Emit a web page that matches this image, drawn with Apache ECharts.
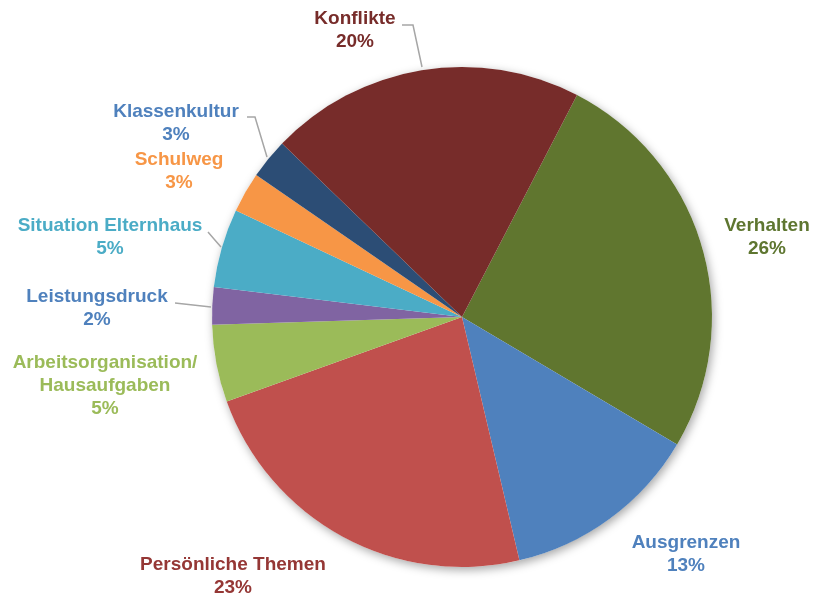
<!DOCTYPE html>
<html>
<head>
<meta charset="utf-8">
<script src="https://cdn.jsdelivr.net/npm/echarts@6/dist/echarts.min.js"></script>
<style>
html,body{margin:0;padding:0;background:#fff;}
#chart{width:814px;height:596px;}
</style>
</head>
<body>
<div id="chart"></div>
<script>
// ---- data ----
const categories = ['Verhalten', 'Ausgrenzen', 'Persönliche Themen', 'Arbeitsorganisation/\nHausaufgaben', 'Leistungsdruck', 'Situation Elternhaus', 'Schulweg', 'Klassenkultur', 'Konflikte'];
const values = [25.9, 12.8, 23.2, 5.0, 2.4, 5.1, 2.6, 2.6, 20.4];

// ---- styles ----
const sliceColors = ['#60762F', '#4F81BD', '#C0504D', '#9BBB59', '#8064A2', '#4BACC6', '#F79646', '#2C4D75', '#772C2A'];
const labelColors = ['#5E7630', '#4F81BD', '#953735', '#9BBB59', '#4F81BD', '#4BACC6', '#F79646', '#4F81BD', '#772C2A'];
const labelPos = [[767, 237], [686, 554], [233, 576], [105, 386], [97, 308], [110, 237], [179, 171], [176, 123], [355, 30]];
const leaderLines = {
  4: [[211, 307], [193, 305], [175, 303]],
  5: [[221, 247], [214, 239], [208, 232]],
  7: [[267, 157], [255, 117], [247, 117]],
  8: [[422, 67], [413, 25], [402, 25]]
};

const pieCenter = [462, 317];
const pieRadius = 250;

const chart = echarts.init(document.getElementById('chart'), null, {renderer: 'canvas'});
const data = categories.map((c, i) => ({
  name: c,
  value: values[i],
  itemStyle: {color: sliceColors[i]},
  label: {color: labelColors[i]},
  labelLine: {show: !!leaderLines[i]}
}));

chart.setOption({
  backgroundColor: '#ffffff',
  animation: false,
  series: [
    {
      type: 'pie',
      silent: true,
      z: 1,
      center: pieCenter,
      radius: pieRadius,
      label: {show: false},
      labelLine: {show: false},
      itemStyle: {
        color: '#ffffff',
        shadowBlur: 10,
        shadowOffsetX: 2,
        shadowOffsetY: 3,
        shadowColor: 'rgba(0,0,0,0.35)'
      },
      data: [{name: '', value: 1}]
    },
    {
      type: 'pie',
      z: 2,
      center: pieCenter,
      radius: pieRadius,
      startAngle: 62.6,
      clockwise: true,
      avoidLabelOverlap: false,
      itemStyle: {borderWidth: 0},
      label: {
        show: true,
        position: 'outside',
        fontFamily: 'Liberation Sans, Arial, sans-serif',
        fontWeight: 'bold',
        fontSize: 19,
        lineHeight: 23,
        align: 'center',
        formatter: p => p.name + '\n' + Math.round(p.percent) + '%'
      },
      labelLine: {
        lineStyle: {color: '#A6A6A6', width: 1.5}
      },
      labelLayout: function (params) {
        const i = params.dataIndex;
        const pos = labelPos[i];
        const out = {x: pos[0], y: pos[1], align: 'center', verticalAlign: 'middle'};
        if (leaderLines[i]) out.labelLinePoints = leaderLines[i];
        return out;
      },
      data: data
    }
  ]
});
</script>
</body>
</html>
